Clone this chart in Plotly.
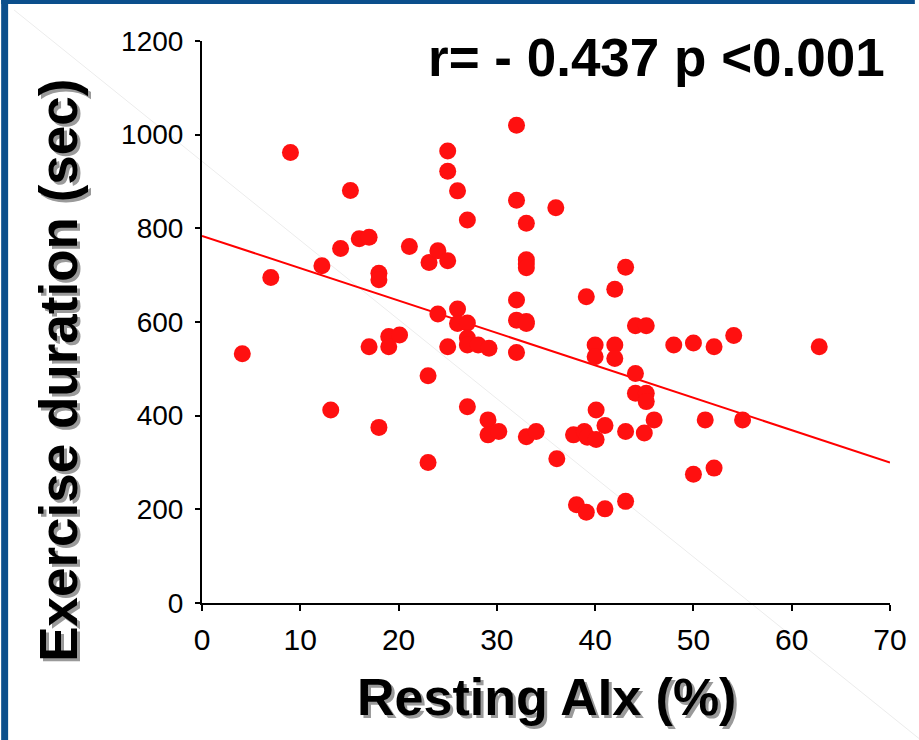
import plotly.graph_objects as go

# ---- data ----
aix = [4.1, 7.0, 9.0, 12.2, 13.1, 14.1, 15.1, 16.0, 17.0, 17.0,
       18.0, 18.0, 18.0, 19.0, 19.0, 20.1, 21.1, 23.1, 23.0, 23.0,
       24.0, 24.0, 25.0, 25.0, 25.0, 25.0, 26.0, 26.0, 26.0, 27.0,
       27.0, 27.0, 27.0, 27.0, 28.1, 29.2, 29.1, 29.1, 30.2, 32.0,
       32.0, 32.0, 32.0, 32.0, 33.0, 33.0, 33.0, 33.0, 33.0, 33.0,
       33.0, 34.0, 36.0, 36.1, 37.8, 38.1, 38.9, 39.2, 39.1, 39.1,
       40.0, 40.0, 40.1, 40.1, 41.0, 41.0, 42.0, 42.0, 42.0, 43.1,
       43.1, 43.1, 44.1, 44.1, 44.1, 45.2, 45.2, 45.2, 45.0, 46.0,
       48.0, 50.0, 50.0, 51.2, 52.1, 52.1, 54.1, 55.0, 62.8]
duration = [532, 695, 962, 720, 412, 757, 881, 778, 781, 547,
            704, 690, 375, 569, 547, 572, 761, 727, 485, 300,
            752, 617, 731, 965, 922, 547, 880, 628, 597, 818,
            598, 566, 551, 419, 551, 544, 391, 359, 366, 1020,
            860, 647, 604, 535, 811, 733, 724, 716, 601, 597,
            355, 366, 844, 308, 359, 210, 366, 354, 654, 194,
            551, 526, 412, 349, 379, 201, 670, 551, 522, 717,
            366, 217, 592, 490, 448, 592, 448, 430, 363, 391,
            551, 555, 275, 391, 547, 288, 571, 391, 547]
fit_x = [0, 70]
fit_y = [784, 300]

x_ticks = [0, 10, 20, 30, 40, 50, 60, 70]
y_ticks = [0, 200, 400, 600, 800, 1000, 1200]

stat_text = "r= - 0.437 p <0.001"
x_title = "Resting AIx (%)"
y_title = "Exercise duration (sec)"

W, H = 919, 740
L, R, T, B = 202, 25, 41, 137
PW, PH = W - L - R, H - T - B


def px(xp):
    return (xp - L) / PW


def py(yp):
    return (H - B - yp) / PH


fig = go.Figure()
fig.add_trace(go.Scatter(x=fit_x, y=fit_y, mode="lines",
                         line=dict(color="#ff0000", width=2),
                         hoverinfo="skip", showlegend=False))
fig.add_trace(go.Scatter(x=aix, y=duration, mode="markers",
                         marker=dict(color="#ff1010", size=17, line=dict(width=0)),
                         showlegend=False))

blue = "#0b4f8c"
shapes = [
    dict(type="rect", xref="paper", yref="paper", x0=px(0), x1=px(7), y0=py(H), y1=py(0),
         fillcolor=blue, line=dict(width=0), layer="below"),
    dict(type="rect", xref="paper", yref="paper", x0=px(0), x1=px(W), y0=py(4), y1=py(0),
         fillcolor=blue, line=dict(width=0), layer="below"),
    dict(type="line", xref="paper", yref="paper", x0=px(13), y0=py(10), x1=px(925), y1=py(740),
         line=dict(color="#ececec", width=1), layer="below"),
]

ann = []


def add_text(text, x, y, size, family, angle=0):
    for dx, dy, col in [(3, -3, "#9a9a9a"), (0, 0, "#000000")]:
        ann.append(dict(text=text, xref="paper", yref="paper", x=x, y=y,
                        xanchor="center", yanchor="middle", showarrow=False,
                        textangle=angle, xshift=dx, yshift=dy,
                        font=dict(size=size, family=family, color=col)))


add_text("<b>" + y_title + "</b>", px(58), py(370), 53, "Liberation Sans, Arial", -90)
add_text("<b>" + x_title + "</b>", px(548), py(697), 52, "Liberation Sans, Arial")
ann.append(dict(text="<b>" + stat_text + "</b>", xref="paper", yref="paper",
                x=px(659), y=py(58), xanchor="center", yanchor="middle", showarrow=False,
                font=dict(size=53, family="Liberation Sans, Arial", color="#000000")))

fig.update_layout(
    width=W, height=H,
    margin=dict(l=L, r=R, t=T, b=B),
    paper_bgcolor="white", plot_bgcolor="white",
    shapes=shapes, annotations=ann,
    xaxis=dict(range=[0, 70], tickvals=x_ticks, ticktext=[str(v) for v in x_ticks],
               showgrid=False, zeroline=False, showline=True, linecolor="black", linewidth=2,
               ticks="outside", ticklen=6, tickwidth=1.5, tickcolor="black",
               ticklabelstandoff=3,
               tickfont=dict(size=30, family="Liberation Sans, Arial", color="black")),
    yaxis=dict(range=[0, 1200], tickvals=y_ticks, ticktext=[str(v) for v in y_ticks],
               showgrid=False, zeroline=False, showline=True, linecolor="black", linewidth=2,
               ticks="outside", ticklen=5, tickwidth=1.5, tickcolor="black",
               ticklabelstandoff=6,
               tickfont=dict(size=28, family="Liberation Sans, Arial", color="black")),
)

fig.write_html("out.html", config={"displayModeBar": False},
               post_script="document.body.style.margin='0';document.body.style.overflow='hidden';")
